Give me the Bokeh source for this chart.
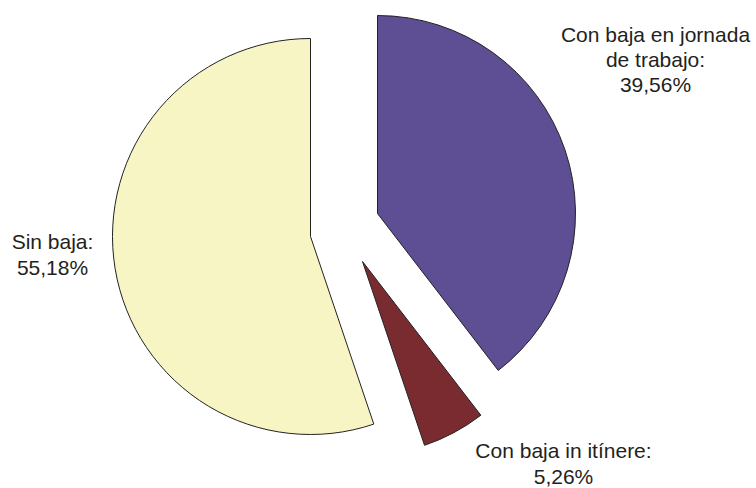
import math
from bokeh.plotting import figure
from bokeh.models import ColumnDataSource
from bokeh.core.properties import value
from bokeh.embed import file_html
from bokeh.resources import INLINE

# ---- data ----
categories = ["Con baja en jornada de trabajo", "Con baja in itínere", "Sin baja"]
label_lines = [["Con baja en jornada", "de trabajo:"], ["Con baja in itínere:"], ["Sin baja:"]]
percentages = [39.56, 5.26, 55.18]
value_labels = ["39,56%", "5,26%", "55,18%"]
colors = ["#5E4F94", "#7A2B30", "#F8F5C5"]

# ---- layout (positions in pixel-like data units, y up) ----
W, H = 756, 488
slice_centers_x = [377, 362, 310]
slice_centers_y = [275, 227, 252]
slice_radii = [198, 194, 198]
label_x = [655, 563, 52]
label_y = [429, 25, 234]

# angles: start at top (90 deg), go clockwise
total = sum(percentages)
starts, ends = [], []
cur = math.pi / 2
for v in percentages:
    span = 2 * math.pi * v / total
    starts.append(cur - span)
    ends.append(cur)
    cur -= span

src = ColumnDataSource(dict(
    x=slice_centers_x, y=slice_centers_y, r=slice_radii,
    start=starts, end=ends, color=colors, cat=categories))

p = figure(width=W, height=H, x_range=(0, W), y_range=(0, H),
           x_axis_type=None, y_axis_type=None, min_border=0,
           toolbar_location=None, output_backend="svg")
p.grid.visible = False
p.outline_line_color = None
p.background_fill_color = "white"

p.wedge(x="x", y="y", radius="r", start_angle="start", end_angle="end",
        fill_color="color", line_color="#222222", line_width=1, source=src)

texts = ["\n".join(lines + [vl]) for lines, vl in zip(label_lines, value_labels)]
tsrc = ColumnDataSource(dict(x=label_x, y=label_y, t=texts))
p.text(x="x", y="y", text="t", source=tsrc, text_align="center",
       text_baseline="middle", text_font=value("Liberation Sans"),
       text_font_size="21px", text_color="#231F20", text_line_height=1.1)

open("out.html", "w").write(file_html(p, INLINE))
